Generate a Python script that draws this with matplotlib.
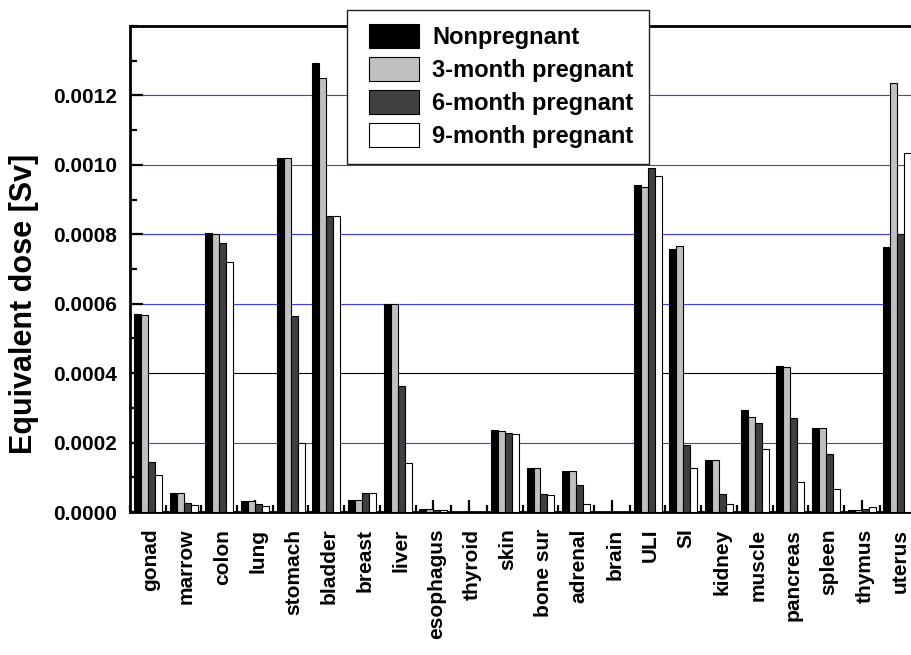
import numpy as np
import matplotlib
matplotlib.use("Agg")
import matplotlib.pyplot as plt
import matplotlib.transforms as mtransforms
from matplotlib.patches import Patch, Rectangle
from matplotlib.legend_handler import HandlerPatch
from matplotlib.ticker import MultipleLocator, FixedLocator, FormatStrFormatter

plt.rcParams['font.family'] = ['Liberation Sans', 'DejaVu Sans']
plt.rcParams['font.weight'] = 'bold'

organs = ["gonad", "marrow", "colon", "lung", "stomach", "bladder", "breast",
          "liver", "esophagus", "thyroid", "skin", "bone sur", "adrenal", "brain",
          "ULI", "SI", "kidney", "muscle", "pancreas", "spleen", "thymus", "uterus"]

nonpregnant = [0.000570, 0.000056, 0.000803, 0.000032, 0.001020, 0.001294, 0.000035,
               0.000599, 0.0000085, 0.0000005, 0.000236, 0.000128, 0.000118, 0.0,
               0.000943, 0.000759, 0.000149, 0.000294, 0.000422, 0.000242, 0.0000063, 0.000764]
month3 = [0.000567, 0.000056, 0.000800, 0.000032, 0.001020, 0.001250, 0.000035,
          0.000600, 0.0000085, 0.0000005, 0.000234, 0.000127, 0.000117, 0.0,
          0.000937, 0.000766, 0.000149, 0.000273, 0.000419, 0.000241, 0.0000063, 0.001237]
month6 = [0.000144, 0.000027, 0.000774, 0.000024, 0.000565, 0.000852, 0.000054,
          0.000363, 0.000006, 0.0000005, 0.000227, 0.000053, 0.000079, 0.0,
          0.000992, 0.000194, 0.000053, 0.000256, 0.000270, 0.000167, 0.000010, 0.000800]
month9 = [0.000107, 0.000020, 0.000720, 0.000016, 0.000200, 0.000852, 0.000055,
          0.000140, 0.000005, 0.0000005, 0.000224, 0.000048, 0.000023, 0.0,
          0.000967, 0.000128, 0.000023, 0.000182, 0.000087, 0.000067, 0.000013, 0.001034]

series = [nonpregnant, month3, month6, month9]
names = ["Nonpregnant", "3-month pregnant", "6-month pregnant", "9-month pregnant"]
colors = ["#000000", "#c0c0c0", "#404040", "#ffffff"]
yticks = [0.0, 0.0002, 0.0004, 0.0006, 0.0008, 0.0010, 0.0012]

fig = plt.figure(figsize=(9.11, 6.55), dpi=100)
ax = fig.add_axes([130/911, 1-512/655, 785.3/911, 486/655])

x = np.arange(len(organs))
w = 0.196
for k, (vals, c) in enumerate(zip(series, colors)):
    ax.bar(x + (k - 1.5)*w, vals, width=w, color=c, edgecolor='black',
           linewidth=0.8, zorder=3)

# guide lines, the 0.0004 one is black in the original
for yv in yticks[1:]:
    ax.axhline(yv, color='black' if yv == 0.0004 else '#3c3cff', lw=0.8, zorder=1)

ax.set_xlim(-0.5, 21.5)
ax.set_ylim(0, 0.0014)
ax.yaxis.set_major_locator(FixedLocator(yticks))
ax.yaxis.set_minor_locator(MultipleLocator(0.0001))
ax.yaxis.set_major_formatter(FormatStrFormatter('%.4f'))
ax.set_xticks(x)
ax.set_xticks(np.arange(-0.5, 22, 1.0), minor=True)
ax.set_xticklabels(organs, rotation=90, va='top', ha='center')

ax.tick_params(axis='both', which='major', direction='in', length=9, width=1.6,
               labelsize=15)
ax.tick_params(axis='both', which='minor', direction='in', length=5, width=1.6)
ax.tick_params(axis='x', which='major', pad=12)
ax.tick_params(axis='y', which='major', pad=9)

shift = mtransforms.ScaledTranslation(3/100, 0, fig.dpi_scale_trans)
for lab in ax.get_xticklabels():
    lab.set_transform(lab.get_transform() + shift)

for s in ax.spines.values():
    s.set_linewidth(2.0)

ax.set_ylabel("Equivalent dose [Sv]", fontsize=22, fontweight='bold')
ax.yaxis.set_label_coords(-0.116, 0.428)


def legend_box(legend, orig_handle, xdescent, ydescent, width, height, fontsize):
    return Rectangle((-xdescent + 0.12*width, -ydescent - 0.06*height),
                     0.88*width, 1.12*height)


handles = [Patch(facecolor=c, edgecolor='black', linewidth=0.8) for c in colors]
leg = ax.legend(handles, names, loc='upper left',
                bbox_to_anchor=(347/911, 1-10/655), bbox_transform=fig.transFigure,
                borderaxespad=0, fancybox=False, framealpha=1, edgecolor='#202020',
                prop={'size': 17, 'weight': 'bold'}, handlelength=2.4,
                handleheight=1.0, labelspacing=0.4, handletextpad=0.55, borderpad=0.65,
                handler_map={Patch: HandlerPatch(patch_func=legend_box)})
leg.get_frame().set_linewidth(1.0)
leg.set_zorder(10)

fig.savefig("out.png", dpi=100)
